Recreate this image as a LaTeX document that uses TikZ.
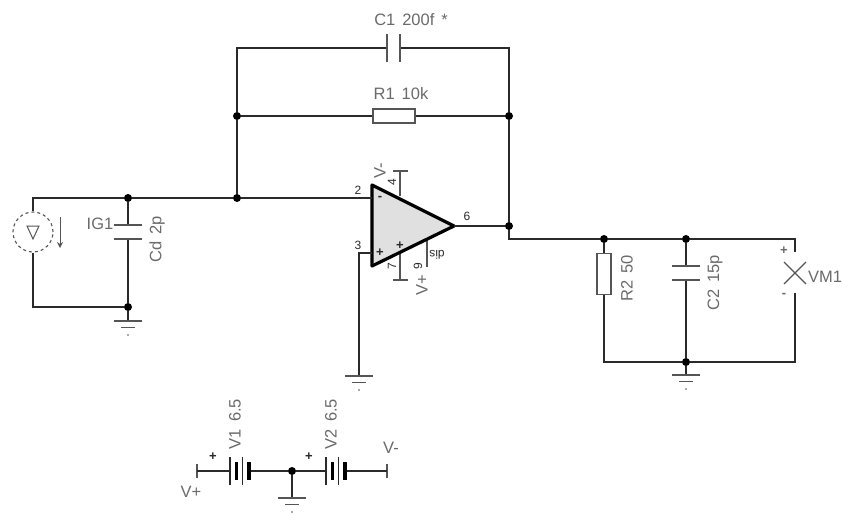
\documentclass[tikz,border=0pt]{standalone}
\usepackage{fontspec}
\setmainfont{Liberation Sans}
\usetikzlibrary{arrows.meta, positioning, calc}
\definecolor{wirecol}{HTML}{2A2A2A}
\definecolor{partcol}{HTML}{555555}
\definecolor{labelcol}{HTML}{6A6A6A}
\newcommand{\lblfont}{\fontsize{16.5}{16.5}\selectfont\spaceskip 0.42em\relax}
\tikzset{
  wire/.style={draw=wirecol, line width=1.3pt},
  part/.style={draw=partcol, line width=1.2pt},
  resbox/.style={draw=partcol, line width=1.2pt, fill=white, inner sep=0pt},
  junction/.style={circle, fill=black, inner sep=0pt, minimum size=8pt},
  lbl/.style={text=labelcol, font=\lblfont, inner sep=0pt},
  pinlbl/.style={text=wirecol, font=\fontsize{12}{12}\selectfont, inner sep=0pt},
  signlbl/.style={text=wirecol, font=\fontsize{13}{13}\selectfont\bfseries, inner sep=0pt},
  pics/gnd/.style={code={
    \draw[part] (-14,0) -- (14,0);
    \draw[part] (-7,6.5) -- (7,6.5);
    \fill[partcol] (0,14) circle (0.8);
  }},
}
\begin{document}
\begin{tikzpicture}[x=1pt, y=-1pt]
    \useasboundingbox (0,0) rectangle (842,514);
    % junctions
    \node[junction] (jA) at (128,198) {};
    \node[junction] (jB) at (237,198) {};
    \node[junction] (jC) at (237,116) {};
    \node[junction] (jD) at (509,116) {};
    \node[junction] (jE) at (509,226) {};
    \node[junction] (jF) at (604,239) {};
    \node[junction] (jG) at (686,239) {};
    \node[junction] (jH) at (128,307) {};
    \node[junction] (jI) at (686,362) {};
    \node[junction] (jJ) at (292,471) {};
    % corners and grounds
    \coordinate (tl) at (237,48);
    \coordinate (tr) at (509,48);
    \coordinate (srcTop) at (33,198);
    \coordinate (srcBot) at (33,307);
    \coordinate (out) at (509,239);
    \coordinate (mR) at (795,239);
    \coordinate (mB) at (795,362);
    \coordinate (r2B) at (604,362);
    \coordinate (p3) at (359,253);
    \coordinate (g1) at (128,321);
    \coordinate (g2) at (359,376);
    \coordinate (g3) at (686,375);
    \coordinate (g4) at (292,498);
    \coordinate (inN) at (372,198);
    \coordinate (inP) at (372,253);
    % opamp
    \coordinate (oaT) at (372,185);
    \coordinate (oaB) at (372,266);
    \coordinate (oaO) at (454,226);
    % supply pins and stubs
    \draw[part] (400,171) -- (400,196);
    \draw[part] (393,171) -- (408,171);
    \draw[part] (400,248) -- (400,280);
    \draw[part] (393,280) -- (408,280);
    \draw[part] (427,240) -- (427,267);
    \draw[draw=black, line width=3.2pt, fill=black!12, line join=round] (oaT) -- (oaO) -- (oaB) -- cycle;
    % feedback
    \node[resbox, minimum width=42pt, minimum height=14pt] (R1) at (394,116) {};
    \coordinate (c1L) at (387,48);
    \coordinate (c1R) at (400,48);
    \draw[wire] (jB) -- (jC) -- (tl) -- (c1L);
    \draw[wire] (c1R) -- (tr) -- (jD) -- (jE);
    \draw[wire] (jC) -- (R1) -- (jD);
    \draw[part] (387,34) -- (387,62);
    \draw[part] (400,34) -- (400,62);
    % input side
    \node[circle, draw=partcol, dashed, line width=1.1pt, minimum size=40pt, inner sep=0pt, fill=white] (IG) at (33,232) {};
    \draw[part, line width=1pt] (27,226) -- (39,226) -- (33,239) -- cycle;
    \draw[part, line width=1pt, -{Stealth[open, length=6pt, width=6pt]}] (60,217) -- (60,248);
    \draw[wire] (IG) -- (srcTop) -- (jA) -- (jB) -- (inN);
    \draw[wire] (IG) -- (srcBot) -- (jH);
    \coordinate (cdT) at (128,225);
    \coordinate (cdB) at (128,239);
    \draw[wire] (jA) -- (cdT);
    \draw[wire] (cdB) -- (jH);
    \draw[part] (114,225) -- (142,225);
    \draw[part] (114,239) -- (142,239);
    \draw[wire] (jH) -- (g1);
    \pic at (g1) {gnd};
    \draw[wire] (inP) -- (p3) -- (g2);
    \pic at (g2) {gnd};
    % output side
    \draw[wire] (oaO) -- (jE) -- (out) -- (jF) -- (jG) -- (mR) -- (795,252);
    \node[resbox, minimum width=14pt, minimum height=41pt] (R2) at (604,274) {};
    \draw[wire] (jF) -- (R2) -- (r2B) -- (jI) -- (mB) -- (795,293);
    \coordinate (c2T) at (686,266);
    \coordinate (c2B) at (686,280);
    \draw[wire] (jG) -- (c2T);
    \draw[wire] (c2B) -- (jI);
    \draw[part] (672,266) -- (700,266);
    \draw[part] (672,280) -- (700,280);
    \draw[wire] (jI) -- (g3);
    \pic at (g3) {gnd};
    \draw[part] (784,262) -- (806,284);
    \draw[part] (784,284) -- (806,262);
    % batteries
    \coordinate (vpT) at (197,471);
    \coordinate (vmT) at (387,471);
    \draw[part] (197,464) -- (197,478);
    \draw[part] (387,464) -- (387,478);
    \draw[wire] (vpT) -- (230,471);
    \draw[wire] (248,471) -- (jJ) -- (326,471);
    \draw[wire] (345,471) -- (vmT);
    \foreach \bx in {230,326} {
      \draw[draw=wirecol, line width=1.1pt] (\bx,457) -- (\bx,485);
      \draw[draw=black, line width=3.4pt] (\bx+6.5,462) -- (\bx+6.5,480);
      \draw[draw=wirecol, line width=1.1pt] (\bx+12.5,457) -- (\bx+12.5,485);
      \draw[draw=black, line width=3.4pt] (\bx+19,462) -- (\bx+19,480);
    }
    \draw[wire] (jJ) -- (g4);
    \pic at (g4) {gnd};
    % labels
    \node[lbl] (lC1) at (411,20) {C1 200f *};
    \node[lbl] (lR1) at (401,94) {R1 10k};
    \node[lbl] (lIG) at (100,224) {IG1};
    \node[lbl, rotate=90] (lCd) at (157,239) {Cd 2p};
    \node[lbl, rotate=90] (lR2) at (627,278) {R2 50};
    \node[lbl, rotate=90] (lC2) at (715,283) {C2 15p};
    \node[lbl] (lVM) at (825,277) {VM1};
    \node[lbl, rotate=90] (lV1) at (235,424) {V1 6.5};
    \node[lbl, rotate=90] (lV2) at (331,424) {V2 6.5};
    \node[lbl] (lVp) at (191,492) {V+};
    \node[lbl] (lVm) at (391,448) {V-};
    \node[lbl, rotate=90] (lOm) at (380,171) {V-};
    \node[lbl, rotate=90] (lOp) at (422,285) {V+};
    \node[pinlbl] (l2) at (358,190) {2};
    \node[pinlbl] (l3) at (358,245) {3};
    \node[pinlbl] (l6) at (467,216) {6};
    \node[pinlbl, rotate=90] (l4) at (392,182) {4};
    \node[pinlbl, rotate=90] (l7) at (392,266) {7};
    \node[pinlbl, rotate=90] (l9) at (418,266) {9};
    \node[pinlbl, rotate=180] (ldis) at (437,255) {dis};
    \node[signlbl] (sN) at (380,198) {-};
    \node[signlbl] (sP) at (380,253) {+};
    \node[signlbl] (sQ) at (400,246) {+};
    \node[signlbl] (sV1) at (213,457) {+};
    \node[signlbl] (sV2) at (309,457) {+};
    \node[signlbl, text=labelcol] (sM1) at (784,251) {+};
    \node[signlbl, text=labelcol] (sM2) at (784,295) {-};
  \end{tikzpicture}
\end{document}
